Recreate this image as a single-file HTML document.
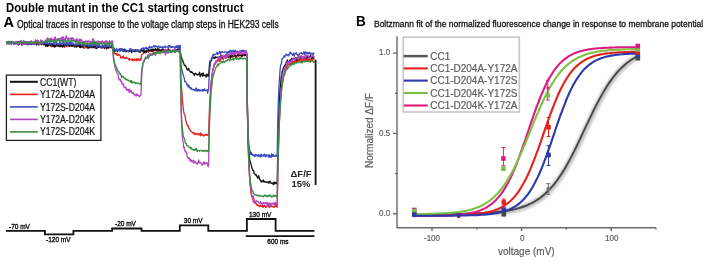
<!DOCTYPE html>
<html><head><meta charset="utf-8">
<style>
html,body{margin:0;padding:0;background:#fff;}
body{width:708px;height:260px;position:relative;overflow:hidden;font-family:"Liberation Sans",sans-serif;}
#wrap{position:absolute;left:0;top:0;width:708px;height:260px;background:#fff;filter:blur(0.35px);}
.t{position:absolute;white-space:nowrap;line-height:1;transform-origin:0 0;}
svg{position:absolute;left:0;top:0;}
.tl{font-size:8.6px;color:#555;transform:scaleX(0.93);-webkit-text-stroke:0.2px #666}
</style></head><body><div id="wrap">
<div class="t" style="left:6px;top:0.5px;font-size:13px;font-weight:bold;color:#000;transform:scaleX(0.87)">Double mutant in the CC1 starting construct</div>
<div class="t" style="left:3.5px;top:15px;font-size:14.5px;font-weight:bold;color:#000;">A</div>
<div class="t" style="left:16.8px;top:20.2px;font-size:10px;color:#111;transform:scaleX(0.85);-webkit-text-stroke:0.3px #111">Optical traces in response to the voltage clamp steps in HEK293 cells</div>
<div class="t" style="left:355.5px;top:13.1px;font-size:15px;font-weight:bold;color:#000;transform:scaleX(0.9)">B</div>
<div class="t" style="left:374.3px;top:19.6px;font-size:9.3px;color:#111;transform:scaleX(0.91);-webkit-text-stroke:0.3px #111">Boltzmann fit of the normalized fluorescence change in response to membrane potential</div>

<svg width="708" height="260" viewBox="0 0 708 260">
<defs><filter id="gb" x="-10%" y="-10%" width="120%" height="120%"><feGaussianBlur stdDeviation="1.3"/></filter></defs>
<g fill="none" stroke-width="1.3" stroke-linejoin="round">
<path d="M6.5,42.6 7.0,43.7 7.5,43.7 8.0,42.3 8.5,42.5 9.0,42.4 9.5,43.2 10.0,42.8 10.5,43.4 11.0,41.4 11.5,44.1 12.0,42.8 12.5,43.4 13.0,42.8 13.5,42.6 14.0,43.3 14.5,43.6 15.0,42.8 15.5,42.9 16.0,43.5 16.5,42.3 17.0,41.8 17.5,43.4 18.0,42.5 18.5,41.5 19.0,42.4 19.5,42.7 20.0,42.1 20.5,41.9 21.0,43.2 21.5,43.9 22.0,43.0 22.5,42.6 23.0,43.5 23.5,43.8 24.0,43.0 24.5,43.6 25.0,44.1 25.5,43.1 26.0,42.6 26.5,43.5 27.0,43.5 27.5,44.2 28.0,42.3 28.5,42.8 29.0,42.6 29.5,41.9 30.0,43.4 30.5,43.8 31.0,42.8 31.5,44.5 32.0,44.0 32.5,43.9 33.0,43.7 33.5,44.2 34.0,42.4 34.5,43.9 35.0,43.9 35.5,42.0 36.0,43.7 36.5,43.3 37.0,44.1 37.5,43.1 38.0,43.5 38.5,43.8 39.0,42.8 39.5,44.0 40.0,43.4 40.5,43.9 41.0,43.1 41.5,44.4 42.0,44.0 42.5,43.4 43.0,44.1 43.5,44.6 44.0,45.0 44.3,42.3 44.8,44.8 45.3,44.8 45.8,44.6 46.3,44.0 46.8,45.9 47.3,44.0 47.8,45.5 48.3,46.1 48.8,43.8 49.3,44.9 49.8,44.1 50.3,45.4 50.8,46.4 51.3,46.8 51.8,43.8 52.3,44.8 52.8,45.8 53.3,46.5 53.8,45.6 54.3,44.7 54.8,45.5 55.3,45.3 55.8,45.2 56.3,44.7 56.8,45.6 57.3,45.6 57.8,45.3 58.3,45.2 58.8,44.3 59.3,45.0 59.8,46.3 60.3,45.2 60.8,44.2 61.3,46.4 61.8,45.8 62.3,47.1 62.8,45.4 63.3,45.0 63.8,44.2 64.3,46.4 64.8,47.4 65.3,44.7 65.8,44.9 66.3,45.9 66.8,44.7 67.3,45.2 67.8,45.1 68.3,45.5 68.8,46.3 69.3,45.4 69.8,46.1 70.3,45.1 70.8,45.7 71.3,43.7 71.8,44.2 72.3,46.0 72.8,44.9 73.3,45.9 73.5,45.8 74.0,46.6 74.5,46.3 75.0,46.5 75.5,45.7 76.0,45.3 76.5,45.3 77.0,45.6 77.5,45.1 78.0,45.6 78.5,46.0 79.0,46.4 79.5,45.9 80.0,44.7 80.5,46.2 81.0,46.5 81.5,47.2 82.0,46.9 82.5,45.9 83.0,45.9 83.5,48.1 84.0,47.1 84.5,48.0 85.0,48.3 85.5,46.0 86.0,46.9 86.5,47.0 87.0,47.1 87.5,47.1 88.0,46.9 88.5,46.9 89.0,45.6 89.5,46.7 90.0,46.2 90.5,46.9 91.0,46.5 91.5,47.4 92.0,47.6 92.5,47.2 93.0,47.2 93.5,47.0 94.0,46.6 94.5,46.9 95.0,46.6 95.5,47.3 96.0,47.0 96.5,47.5 97.0,46.0 97.5,47.8 98.0,46.5 98.5,46.5 99.0,46.9 99.5,46.7 100.0,47.4 100.5,46.7 101.0,46.3 101.5,46.5 102.0,48.2 102.5,47.2 103.0,46.2 103.5,47.2 104.0,46.0 104.5,48.6 105.0,46.0 105.5,47.6 106.0,47.7 106.5,46.1 107.0,47.5 107.5,48.0 108.0,47.6 108.5,47.5 109.0,48.0 109.5,47.4 110.0,47.5 110.5,47.2 111.0,47.8 111.5,46.5 112.0,47.9 112.5,46.9 112.6,46.4 113.1,50.4 113.6,53.0 114.1,53.3 114.6,52.7 115.1,54.1 115.6,53.6 116.1,54.2 116.6,54.7 117.1,53.1 117.6,55.3 118.1,54.6 118.6,55.2 119.1,54.8 119.6,55.0 120.1,55.6 120.6,57.3 121.1,58.1 121.6,57.0 122.1,58.0 122.6,57.1 123.1,55.9 123.6,57.7 124.1,58.1 124.6,57.5 125.1,58.2 125.6,58.6 126.1,57.5 126.6,57.2 127.1,58.3 127.6,58.4 128.1,58.3 128.6,59.5 129.1,60.2 129.6,58.5 130.1,59.5 130.6,59.7 131.1,59.6 131.6,60.0 132.1,58.9 132.6,59.8 133.1,60.9 133.6,60.0 134.1,58.9 134.6,59.9 135.1,60.5 135.6,59.8 136.1,59.1 136.6,60.8 137.1,58.6 137.6,60.0 138.1,59.6 138.6,58.7 139.1,60.7 139.6,60.0 140.1,58.8 140.6,60.3 141.0,59.5 141.5,55.0 142.0,54.3 142.5,54.1 143.0,53.8 143.5,53.0 144.0,52.5 144.5,52.6 145.0,51.8 145.5,52.8 146.0,51.8 146.5,51.7 147.0,51.8 147.5,50.4 148.0,50.6 148.5,52.3 149.0,51.3 149.5,50.8 150.0,51.2 150.5,50.5 151.0,51.1 151.5,50.3 152.0,51.0 152.5,49.5 153.0,51.8 153.5,50.3 154.0,49.4 154.5,50.5 155.0,50.4 155.5,50.8 156.0,49.7 156.5,51.0 157.0,53.5 157.5,49.6 158.0,50.9 158.5,50.4 159.0,50.8 159.5,49.2 160.0,49.7 160.5,51.0 161.0,50.6 161.5,51.9 162.0,50.0 162.5,50.7 163.0,52.9 163.5,50.0 164.0,49.9 164.5,50.6 165.0,50.6 165.5,51.3 166.0,50.7 166.5,50.0 167.0,50.8 167.5,52.7 168.0,51.6 168.5,48.4 169.0,50.5 169.5,49.9 170.0,51.1 170.5,50.5 171.0,52.1 171.5,51.3 172.0,51.3 172.5,50.7 173.0,50.6 173.5,50.9 174.0,51.6 174.5,51.0 175.0,50.3 175.5,51.6 176.0,50.8 176.5,50.5 177.0,50.0 177.5,50.1 178.0,50.1 178.5,48.4 179.0,51.4 179.5,51.1 180.0,50.4 180.2,51.4 180.7,71.8 181.2,84.0 181.7,89.8 182.2,97.6 182.7,103.0 183.2,107.8 183.7,111.4 184.2,114.1 184.7,114.6 185.2,116.1 185.7,120.3 186.2,121.7 186.7,124.0 187.2,124.5 187.7,126.0 188.2,125.7 188.7,128.2 189.2,128.4 189.7,129.7 190.2,130.5 190.7,130.6 191.2,131.5 191.7,131.7 192.2,132.7 192.7,132.8 193.2,132.3 193.7,132.5 194.2,134.6 194.7,133.4 195.2,134.4 195.7,134.1 196.2,133.5 196.7,133.5 197.2,134.3 197.7,134.5 198.2,134.9 198.7,133.4 199.2,134.1 199.7,134.5 200.2,135.9 200.7,132.8 201.2,135.1 201.7,134.3 202.2,135.1 202.7,134.4 203.2,135.2 203.7,136.1 204.2,135.2 204.7,135.3 205.2,135.2 205.7,134.3 206.2,135.4 206.7,134.8 207.2,134.3 207.7,135.0 208.2,134.8 208.6,135.6 209.1,118.1 209.6,104.9 210.1,96.7 210.6,88.7 211.1,83.1 211.6,78.1 212.1,74.0 212.6,71.0 213.1,68.9 213.6,68.2 214.1,66.1 214.6,63.7 215.1,64.0 215.6,62.1 216.1,62.7 216.6,61.1 217.1,60.5 217.6,61.2 218.1,60.7 218.6,59.1 219.1,60.7 219.6,61.5 220.1,58.4 220.6,60.8 221.1,58.5 221.6,58.5 222.1,58.5 222.6,57.3 223.1,59.3 223.6,58.5 224.1,57.3 224.6,57.6 225.1,56.4 225.6,57.2 226.1,58.1 226.6,55.8 227.1,56.7 227.6,57.1 228.1,57.7 228.6,57.8 229.1,56.3 229.6,55.9 230.1,56.8 230.6,56.0 231.1,56.0 231.6,57.0 232.1,57.4 232.6,56.2 233.1,55.8 233.6,56.3 234.1,54.3 234.6,55.7 235.1,54.8 235.6,57.5 236.1,56.1 236.6,55.6 237.1,55.3 237.6,53.3 238.1,55.9 238.6,56.6 239.1,54.6 239.6,55.7 240.1,55.7 240.6,53.8 241.1,55.8 241.6,56.1 242.1,55.2 242.6,54.9 243.1,55.5 243.6,53.6 244.1,54.9 244.6,55.7 245.1,53.8 245.6,55.5 246.1,54.4 246.6,53.0 246.7,54.6 247.2,94.4 247.7,124.5 248.2,144.1 248.7,161.0 249.2,170.6 249.7,179.6 250.2,184.9 250.7,189.6 251.2,194.2 251.7,196.0 252.2,197.5 252.7,198.3 253.2,201.5 253.7,202.1 254.2,202.1 254.7,203.2 255.2,202.7 255.7,203.2 256.2,203.7 256.7,204.9 257.2,205.2 257.7,204.5 258.2,205.9 258.7,206.1 259.2,205.8 259.7,206.6 260.2,205.6 260.7,205.9 261.2,206.4 261.7,206.1 262.2,206.8 262.7,205.2 263.2,207.4 263.7,205.6 264.2,206.2 264.7,205.2 265.2,206.8 265.7,207.4 266.2,207.2 266.7,207.1 267.2,205.2 267.7,205.8 268.2,206.1 268.7,205.7 269.2,207.4 269.7,206.6 270.2,206.4 270.7,206.9 271.2,205.7 271.7,205.8 272.2,205.8 272.7,206.9 273.2,206.8 273.7,207.0 274.2,207.4 274.7,205.4 275.2,206.0 275.7,206.6 276.2,205.4 276.7,206.1 277.2,207.3 277.7,180.2 278.2,158.4 278.7,140.1 279.2,125.8 279.7,115.5 280.2,105.1 280.7,98.3 281.2,93.1 281.7,86.8 282.2,82.6 282.7,79.8 283.2,77.6 283.7,75.3 284.2,73.1 284.7,71.9 285.2,68.9 285.7,68.3 286.2,68.2 286.7,66.5 287.2,65.5 287.7,65.0 288.2,64.6 288.7,64.8 289.2,63.7 289.7,64.3 290.2,65.1 290.7,63.3 291.2,64.2 291.7,63.1 292.2,61.7 292.7,62.2 293.2,61.4 293.7,62.6 294.2,60.9 294.7,62.7 295.2,62.0 295.7,59.7 296.2,61.9 296.7,62.3 297.2,60.3 297.7,61.6 298.2,59.3 298.7,60.8 299.2,59.2 299.7,60.8 300.2,58.9 300.7,58.2 301.2,60.5 301.7,62.0 302.2,59.6 302.7,60.7 303.2,60.0 303.7,59.6 304.2,60.3 304.7,61.1 305.2,58.8 305.7,60.1 306.2,59.9 306.7,58.5 307.2,60.9 307.7,61.1 308.2,58.7 308.7,60.9 309.2,59.5 309.7,59.3 310.2,60.6 310.7,59.5 311.2,59.6 311.7,60.5 312.2,60.3 312.7,60.0 313.2,58.1 313.7,58.0 314.2,60.1" stroke="#e2231f"/>
<path d="M6.5,41.9 7.0,42.8 7.5,41.9 8.0,42.7 8.5,41.8 9.0,44.2 9.5,42.1 10.0,42.8 10.5,42.8 11.0,43.9 11.5,41.8 12.0,42.9 12.5,42.8 13.0,43.4 13.5,43.4 14.0,42.6 14.5,43.2 15.0,42.7 15.5,43.4 16.0,43.0 16.5,42.5 17.0,43.1 17.5,43.4 18.0,44.9 18.5,42.7 19.0,43.4 19.5,44.3 20.0,41.5 20.5,41.8 21.0,42.2 21.5,43.1 22.0,45.2 22.5,43.5 23.0,44.2 23.5,43.1 24.0,41.3 24.5,41.4 25.0,44.1 25.5,43.4 26.0,42.2 26.5,44.2 27.0,42.1 27.5,44.2 28.0,44.5 28.5,42.7 29.0,42.5 29.5,44.0 30.0,42.5 30.5,44.1 31.0,42.4 31.5,44.0 32.0,43.5 32.5,43.1 33.0,42.7 33.5,43.6 34.0,41.9 34.5,43.2 35.0,43.1 35.5,44.0 36.0,42.5 36.5,44.9 37.0,43.2 37.5,42.6 38.0,44.6 38.5,44.8 39.0,43.4 39.5,42.8 40.0,43.5 40.5,43.0 41.0,43.3 41.5,44.8 42.0,43.9 42.5,43.7 43.0,43.9 43.5,43.5 44.0,44.3 44.3,44.3 44.8,43.7 45.3,44.3 45.8,46.3 46.3,44.9 46.8,44.5 47.3,46.4 47.8,44.8 48.3,44.0 48.8,45.5 49.3,44.3 49.8,44.6 50.3,45.4 50.8,45.0 51.3,44.6 51.8,44.8 52.3,44.8 52.8,46.2 53.3,44.7 53.8,44.9 54.3,47.0 54.8,44.9 55.3,46.6 55.8,46.5 56.3,45.3 56.8,44.3 57.3,45.8 57.8,46.0 58.3,46.2 58.8,45.5 59.3,46.5 59.8,46.6 60.3,44.7 60.8,46.7 61.3,45.7 61.8,45.1 62.3,45.3 62.8,47.0 63.3,46.3 63.8,44.1 64.3,45.6 64.8,45.5 65.3,45.4 65.8,45.2 66.3,44.4 66.8,46.3 67.3,44.8 67.8,45.3 68.3,45.1 68.8,45.0 69.3,46.2 69.8,45.9 70.3,45.1 70.8,44.8 71.3,45.2 71.8,46.4 72.3,45.7 72.8,45.8 73.3,45.3 73.5,45.4 74.0,45.9 74.5,44.3 75.0,47.2 75.5,45.3 76.0,45.6 76.5,47.1 77.0,46.3 77.5,46.2 78.0,45.7 78.5,45.0 79.0,46.4 79.5,47.3 80.0,45.6 80.5,47.5 81.0,45.5 81.5,45.8 82.0,46.9 82.5,46.5 83.0,47.1 83.5,45.9 84.0,45.7 84.5,45.1 85.0,45.6 85.5,45.8 86.0,45.5 86.5,46.9 87.0,46.2 87.5,45.1 88.0,48.7 88.5,46.1 89.0,45.8 89.5,47.8 90.0,47.7 90.5,45.9 91.0,45.7 91.5,46.1 92.0,47.8 92.5,46.6 93.0,46.3 93.5,46.9 94.0,47.9 94.5,45.8 95.0,46.6 95.5,45.9 96.0,48.7 96.5,48.4 97.0,47.8 97.5,46.9 98.0,47.5 98.5,45.3 99.0,47.3 99.5,46.0 100.0,46.0 100.5,46.5 101.0,46.8 101.5,47.5 102.0,47.6 102.5,47.3 103.0,46.3 103.5,47.6 104.0,47.0 104.5,48.1 105.0,46.4 105.5,44.9 106.0,46.8 106.5,48.9 107.0,47.5 107.5,47.0 108.0,47.9 108.5,47.6 109.0,47.5 109.5,46.8 110.0,47.2 110.5,47.3 111.0,46.7 111.5,46.3 112.0,47.3 112.5,48.0 112.6,47.7 113.1,48.7 113.6,49.3 114.1,51.3 114.6,49.6 115.1,50.4 115.6,51.2 116.1,49.8 116.6,50.0 117.1,50.7 117.6,51.3 118.1,50.3 118.6,50.4 119.1,50.2 119.6,49.2 120.1,51.1 120.6,50.1 121.1,49.0 121.6,50.3 122.1,49.0 122.6,49.7 123.1,50.5 123.6,49.8 124.1,51.4 124.6,49.4 125.1,50.8 125.6,51.1 126.1,51.9 126.6,51.4 127.1,50.9 127.6,50.8 128.1,50.7 128.6,51.7 129.1,50.3 129.6,51.2 130.1,50.8 130.6,51.0 131.1,50.7 131.6,52.6 132.1,50.4 132.6,51.1 133.1,51.1 133.6,51.4 134.1,51.3 134.6,51.3 135.1,51.7 135.6,49.7 136.1,51.0 136.6,50.0 137.1,51.2 137.6,50.0 138.1,50.2 138.6,50.9 139.1,52.1 139.6,51.5 140.1,51.2 140.6,52.1 141.0,50.3 141.5,49.2 142.0,50.4 142.5,50.4 143.0,51.6 143.5,52.3 144.0,49.5 144.5,52.5 145.0,51.7 145.5,51.1 146.0,50.7 146.5,52.4 147.0,50.5 147.5,50.0 148.0,50.5 148.5,49.2 149.0,50.7 149.5,50.2 150.0,50.6 150.5,50.6 151.0,49.4 151.5,51.3 152.0,49.5 152.5,51.0 153.0,49.0 153.5,50.6 154.0,49.6 154.5,50.3 155.0,49.7 155.5,48.5 156.0,49.3 156.5,50.3 157.0,50.7 157.5,49.1 158.0,48.5 158.5,49.5 159.0,50.1 159.5,49.7 160.0,49.6 160.5,50.9 161.0,51.0 161.5,50.8 162.0,49.5 162.5,50.3 163.0,50.1 163.5,49.1 164.0,50.9 164.5,50.3 165.0,49.8 165.5,51.4 166.0,50.8 166.5,50.9 167.0,51.2 167.5,50.8 168.0,49.2 168.5,49.9 169.0,51.0 169.5,49.6 170.0,50.2 170.5,50.5 171.0,51.4 171.5,51.3 172.0,50.9 172.5,50.1 173.0,50.9 173.5,50.6 174.0,50.1 174.5,51.3 175.0,50.6 175.5,49.6 176.0,51.2 176.5,50.0 177.0,50.7 177.5,49.0 178.0,50.2 178.5,49.5 179.0,49.4 179.5,48.7 180.0,51.9 180.2,50.1 180.7,53.9 181.2,57.1 181.7,58.0 182.2,60.2 182.7,60.1 183.2,62.6 183.7,63.2 184.2,65.0 184.7,65.7 185.2,65.3 185.7,65.7 186.2,67.1 186.7,69.1 187.2,69.5 187.7,70.0 188.2,68.6 188.7,68.5 189.2,70.6 189.7,71.2 190.2,71.3 190.7,72.4 191.2,72.3 191.7,71.7 192.2,72.2 192.7,73.2 193.2,73.4 193.7,73.4 194.2,75.5 194.7,73.6 195.2,74.1 195.7,73.3 196.2,73.9 196.7,74.7 197.2,74.9 197.7,74.4 198.2,74.9 198.7,74.7 199.2,73.2 199.7,72.2 200.2,76.7 200.7,75.6 201.2,74.9 201.7,73.6 202.2,74.0 202.7,76.1 203.2,72.9 203.7,74.9 204.2,75.8 204.7,75.3 205.2,75.8 205.7,75.1 206.2,77.1 206.7,74.4 207.2,74.2 207.7,75.5 208.2,76.4 208.6,75.3 209.1,69.1 209.6,63.7 210.1,60.8 210.6,61.4 211.1,60.7 211.6,60.2 212.1,58.2 212.6,57.4 213.1,57.2 213.6,57.8 214.1,58.4 214.6,58.2 215.1,56.6 215.6,57.8 216.1,57.5 216.6,57.5 217.1,57.4 217.6,57.1 218.1,57.7 218.6,57.3 219.1,57.3 219.6,56.5 220.1,57.3 220.6,56.8 221.1,55.1 221.6,57.1 222.1,56.5 222.6,57.4 223.1,56.4 223.6,56.4 224.1,56.6 224.6,56.4 225.1,56.0 225.6,54.9 226.1,57.7 226.6,54.9 227.1,55.9 227.6,56.6 228.1,56.4 228.6,56.5 229.1,56.6 229.6,57.0 230.1,56.1 230.6,58.2 231.1,55.0 231.6,56.0 232.1,55.5 232.6,55.3 233.1,55.9 233.6,56.8 234.1,55.0 234.6,55.0 235.1,56.1 235.6,56.0 236.1,57.1 236.6,56.3 237.1,55.6 237.6,55.1 238.1,55.5 238.6,55.2 239.1,54.2 239.6,55.3 240.1,55.1 240.6,55.1 241.1,54.9 241.6,56.6 242.1,55.7 242.6,55.9 243.1,54.7 243.6,54.3 244.1,54.9 244.6,55.3 245.1,54.8 245.6,54.9 246.1,55.8 246.6,55.2 246.7,54.2 247.2,100.5 247.7,125.9 248.2,141.3 248.7,148.9 249.2,155.2 249.7,159.6 250.2,161.8 250.7,163.1 251.2,165.1 251.7,167.1 252.2,168.7 252.7,170.2 253.2,170.5 253.7,170.6 254.2,173.7 254.7,173.6 255.2,174.5 255.7,175.1 256.2,174.7 256.7,175.9 257.2,176.9 257.7,178.1 258.2,177.8 258.7,175.7 259.2,178.4 259.7,179.3 260.2,180.4 260.7,180.2 261.2,182.0 261.7,181.4 262.2,181.6 262.7,181.5 263.2,179.9 263.7,181.9 264.2,181.9 264.7,181.2 265.2,182.2 265.7,182.2 266.2,181.7 266.7,182.1 267.2,182.1 267.7,182.6 268.2,182.2 268.7,183.1 269.2,181.2 269.7,182.6 270.2,181.5 270.7,182.5 271.2,183.4 271.7,183.1 272.2,183.0 272.7,183.2 273.2,184.5 273.7,182.4 274.2,184.0 274.7,182.1 275.2,183.0 275.7,183.5 276.2,182.8 276.7,183.6 277.2,184.1 277.7,154.4 278.2,133.8 278.7,117.2 279.2,103.4 279.7,95.2 280.2,87.3 280.7,83.4 281.2,77.2 281.7,75.8 282.2,71.4 282.7,71.3 283.2,68.5 283.7,67.1 284.2,66.3 284.7,65.4 285.2,65.1 285.7,64.8 286.2,62.6 286.7,61.4 287.2,59.9 287.7,61.4 288.2,62.0 288.7,61.4 289.2,60.9 289.7,60.3 290.2,59.9 290.7,60.0 291.2,60.3 291.7,58.4 292.2,60.3 292.7,58.4 293.2,59.3 293.7,58.7 294.2,58.8 294.7,58.2 295.2,58.0 295.7,58.6 296.2,57.8 296.7,60.5 297.2,58.1 297.7,57.9 298.2,57.9 298.7,57.4 299.2,56.2 299.7,57.9 300.2,58.3 300.7,56.7 301.2,57.9 301.7,56.8 302.2,57.7 302.7,58.0 303.2,58.0 303.7,58.0 304.2,57.0 304.7,58.2 305.2,57.1 305.7,57.7 306.2,58.0 306.7,57.1 307.2,56.3 307.7,57.8 308.2,56.4 308.7,56.5 309.2,56.3 309.7,57.9 310.2,57.0 310.7,55.3 311.2,57.7 311.7,58.7 312.2,58.5 312.7,56.6 313.2,57.1 313.7,57.4 314.2,57.7" stroke="#111"/>
<path d="M6.5,42.6 7.0,41.6 7.5,43.3 8.0,43.2 8.5,41.4 9.0,42.3 9.5,42.9 10.0,42.6 10.5,43.1 11.0,43.4 11.5,43.1 12.0,42.6 12.5,41.5 13.0,43.2 13.5,43.9 14.0,44.5 14.5,42.7 15.0,42.7 15.5,44.0 16.0,44.0 16.5,43.0 17.0,43.4 17.5,42.1 18.0,43.3 18.5,42.0 19.0,42.6 19.5,42.6 20.0,42.3 20.5,40.9 21.0,42.0 21.5,43.1 22.0,42.7 22.5,42.4 23.0,43.2 23.5,43.4 24.0,43.6 24.5,42.1 25.0,42.8 25.5,42.5 26.0,42.0 26.5,41.5 27.0,42.8 27.5,42.1 28.0,44.8 28.5,42.8 29.0,42.7 29.5,42.5 30.0,44.6 30.5,42.0 31.0,42.7 31.5,42.2 32.0,42.8 32.5,42.9 33.0,43.9 33.5,41.6 34.0,42.9 34.5,44.4 35.0,42.5 35.5,42.8 36.0,42.1 36.5,40.6 37.0,42.8 37.5,44.0 38.0,42.5 38.5,41.3 39.0,43.2 39.5,43.0 40.0,43.9 40.5,43.8 41.0,42.7 41.5,43.3 42.0,41.3 42.5,44.0 43.0,43.1 43.5,44.0 44.0,43.9 44.3,42.7 44.8,43.0 45.3,42.5 45.8,41.5 46.3,43.3 46.8,43.5 47.3,42.4 47.8,44.1 48.3,43.5 48.8,43.8 49.3,42.7 49.8,41.8 50.3,44.1 50.8,44.0 51.3,43.3 51.8,43.0 52.3,43.2 52.8,43.3 53.3,42.9 53.8,41.6 54.3,44.1 54.8,42.1 55.3,43.1 55.8,43.1 56.3,43.6 56.8,41.9 57.3,44.5 57.8,44.0 58.3,44.1 58.8,44.5 59.3,42.7 59.8,40.6 60.3,43.7 60.8,44.6 61.3,44.4 61.8,42.9 62.3,43.3 62.8,43.7 63.3,41.8 63.8,42.8 64.3,42.8 64.8,44.8 65.3,42.8 65.8,44.8 66.3,43.4 66.8,41.9 67.3,45.4 67.8,42.5 68.3,44.0 68.8,44.9 69.3,42.9 69.8,42.3 70.3,44.3 70.8,43.5 71.3,42.3 71.8,42.4 72.3,43.0 72.8,44.3 73.3,43.1 73.5,44.0 74.0,45.1 74.5,44.8 75.0,45.1 75.5,45.0 76.0,42.5 76.5,45.2 77.0,44.4 77.5,44.1 78.0,43.3 78.5,42.9 79.0,43.4 79.5,44.4 80.0,43.5 80.5,43.8 81.0,44.1 81.5,45.3 82.0,44.5 82.5,44.6 83.0,46.0 83.5,44.6 84.0,45.4 84.5,44.0 85.0,45.3 85.5,45.1 86.0,45.2 86.5,44.7 87.0,44.2 87.5,44.9 88.0,44.8 88.5,46.2 89.0,46.1 89.5,44.2 90.0,45.9 90.5,44.9 91.0,45.8 91.5,45.0 92.0,44.1 92.5,46.4 93.0,45.9 93.5,44.4 94.0,43.8 94.5,45.1 95.0,44.5 95.5,45.3 96.0,46.2 96.5,47.0 97.0,45.3 97.5,46.9 98.0,46.7 98.5,45.3 99.0,44.2 99.5,46.5 100.0,46.3 100.5,47.9 101.0,47.1 101.5,46.5 102.0,47.3 102.5,44.9 103.0,46.0 103.5,45.6 104.0,47.4 104.5,46.4 105.0,43.1 105.5,47.1 106.0,45.1 106.5,46.6 107.0,45.5 107.5,46.2 108.0,46.5 108.5,46.1 109.0,45.1 109.5,47.2 110.0,46.3 110.5,46.0 111.0,46.6 111.5,45.5 112.0,47.7 112.5,46.2 112.6,46.3 113.1,48.1 113.6,47.8 114.1,47.9 114.6,49.4 115.1,49.6 115.6,50.6 116.1,49.9 116.6,48.5 117.1,50.0 117.6,50.3 118.1,50.5 118.6,50.0 119.1,48.6 119.6,50.8 120.1,49.1 120.6,50.3 121.1,48.4 121.6,50.5 122.1,49.2 122.6,50.9 123.1,51.5 123.6,51.0 124.1,48.9 124.6,49.1 125.1,49.2 125.6,50.6 126.1,50.3 126.6,50.2 127.1,50.3 127.6,50.6 128.1,50.7 128.6,51.6 129.1,50.0 129.6,50.3 130.1,48.4 130.6,48.9 131.1,49.5 131.6,49.1 132.1,50.3 132.6,51.1 133.1,49.8 133.6,49.7 134.1,49.7 134.6,50.3 135.1,49.7 135.6,50.6 136.1,50.4 136.6,50.5 137.1,50.9 137.6,50.2 138.1,50.3 138.6,51.8 139.1,50.2 139.6,50.9 140.1,50.2 140.6,49.8 141.0,49.8 141.5,48.6 142.0,48.9 142.5,48.0 143.0,48.0 143.5,49.3 144.0,48.0 144.5,49.0 145.0,48.1 145.5,48.6 146.0,47.2 146.5,47.8 147.0,50.0 147.5,48.3 148.0,48.4 148.5,47.7 149.0,48.2 149.5,46.3 150.0,46.6 150.5,47.7 151.0,48.0 151.5,46.9 152.0,47.0 152.5,46.9 153.0,47.0 153.5,46.1 154.0,45.9 154.5,47.1 155.0,45.5 155.5,46.2 156.0,46.5 156.5,46.1 157.0,47.3 157.5,46.7 158.0,47.0 158.5,46.1 159.0,46.4 159.5,47.5 160.0,47.4 160.5,46.6 161.0,47.3 161.5,47.2 162.0,47.2 162.5,48.4 163.0,46.6 163.5,47.4 164.0,47.4 164.5,46.8 165.0,45.9 165.5,47.6 166.0,47.2 166.5,47.0 167.0,47.0 167.5,47.0 168.0,46.2 168.5,47.2 169.0,45.3 169.5,46.9 170.0,45.6 170.5,46.7 171.0,47.6 171.5,46.7 172.0,46.5 172.5,47.4 173.0,46.7 173.5,46.6 174.0,46.6 174.5,48.3 175.0,47.6 175.5,47.4 176.0,45.9 176.5,47.5 177.0,45.8 177.5,47.4 178.0,45.9 178.5,48.7 179.0,45.4 179.5,48.0 180.0,47.7 180.2,45.3 180.7,58.2 181.2,66.1 181.7,69.8 182.2,70.2 182.7,73.4 183.2,74.7 183.7,76.4 184.2,78.2 184.7,81.6 185.2,81.2 185.7,81.9 186.2,82.7 186.7,84.4 187.2,85.1 187.7,84.3 188.2,87.0 188.7,85.2 189.2,86.4 189.7,87.4 190.2,88.9 190.7,87.4 191.2,88.3 191.7,89.4 192.2,89.1 192.7,89.7 193.2,89.8 193.7,89.3 194.2,89.8 194.7,90.2 195.2,89.4 195.7,91.0 196.2,87.9 196.7,88.9 197.2,91.1 197.7,90.3 198.2,89.4 198.7,90.4 199.2,91.1 199.7,89.6 200.2,90.8 200.7,90.1 201.2,90.1 201.7,90.2 202.2,91.3 202.7,89.3 203.2,90.0 203.7,90.9 204.2,89.3 204.7,88.9 205.2,90.9 205.7,90.4 206.2,90.3 206.7,90.5 207.2,89.5 207.7,93.1 208.2,89.6 208.6,90.1 209.1,77.2 209.6,70.2 210.1,66.7 210.6,61.8 211.1,59.9 211.6,57.4 212.1,58.3 212.6,56.1 213.1,54.2 213.6,55.6 214.1,54.3 214.6,54.9 215.1,54.3 215.6,54.3 216.1,54.0 216.6,52.9 217.1,52.3 217.6,54.4 218.1,53.3 218.6,53.6 219.1,52.8 219.6,51.3 220.1,51.9 220.6,54.2 221.1,52.2 221.6,52.5 222.1,51.4 222.6,52.2 223.1,52.2 223.6,52.3 224.1,52.4 224.6,51.8 225.1,51.8 225.6,52.2 226.1,52.5 226.6,52.0 227.1,53.7 227.6,52.2 228.1,52.1 228.6,51.4 229.1,52.8 229.6,50.9 230.1,50.3 230.6,50.9 231.1,52.3 231.6,50.7 232.1,52.8 232.6,51.6 233.1,50.2 233.6,51.3 234.1,53.1 234.6,50.7 235.1,50.3 235.6,51.9 236.1,52.6 236.6,52.3 237.1,51.0 237.6,51.5 238.1,51.6 238.6,52.3 239.1,53.2 239.6,51.1 240.1,52.3 240.6,50.8 241.1,51.7 241.6,50.3 242.1,50.4 242.6,51.4 243.1,50.2 243.6,51.8 244.1,50.5 244.6,51.1 245.1,50.9 245.6,50.7 246.1,51.1 246.6,51.9 246.7,53.7 247.2,95.5 247.7,121.9 248.2,135.3 248.7,142.5 249.2,148.1 249.7,149.7 250.2,152.1 250.7,154.3 251.2,152.1 251.7,154.6 252.2,155.1 252.7,154.1 253.2,155.6 253.7,155.5 254.2,155.0 254.7,156.5 255.2,154.3 255.7,156.1 256.2,155.4 256.7,154.7 257.2,155.5 257.7,155.3 258.2,156.4 258.7,154.3 259.2,155.5 259.7,155.3 260.2,157.1 260.7,154.7 261.2,156.7 261.7,154.1 262.2,156.0 262.7,155.6 263.2,156.1 263.7,155.1 264.2,154.0 264.7,154.3 265.2,156.9 265.7,155.9 266.2,154.9 266.7,156.5 267.2,155.1 267.7,155.1 268.2,154.6 268.7,156.8 269.2,157.5 269.7,154.9 270.2,156.0 270.7,156.6 271.2,157.6 271.7,153.6 272.2,155.8 272.7,156.3 273.2,154.4 273.7,156.1 274.2,155.9 274.7,156.4 275.2,155.2 275.7,156.1 276.2,155.2 276.7,156.3 277.2,155.9 277.7,126.2 278.2,104.7 278.7,93.0 279.2,82.2 279.7,74.8 280.2,68.3 280.7,64.9 281.2,64.1 281.7,61.3 282.2,58.5 282.7,58.3 283.2,57.6 283.7,56.7 284.2,55.6 284.7,57.2 285.2,56.3 285.7,55.4 286.2,53.9 286.7,54.7 287.2,55.0 287.7,55.7 288.2,54.4 288.7,55.7 289.2,54.7 289.7,53.8 290.2,51.9 290.7,53.3 291.2,52.9 291.7,54.1 292.2,54.5 292.7,55.4 293.2,54.0 293.7,53.0 294.2,56.1 294.7,54.2 295.2,53.7 295.7,53.6 296.2,52.6 296.7,54.4 297.2,54.1 297.7,55.2 298.2,54.7 298.7,54.5 299.2,54.8 299.7,53.4 300.2,53.3 300.7,53.6 301.2,52.5 301.7,53.5 302.2,53.3 302.7,54.2 303.2,53.6 303.7,51.8 304.2,53.6 304.7,54.8 305.2,51.9 305.7,52.8 306.2,53.5 306.7,52.3 307.2,53.0 307.7,53.6 308.2,52.3 308.7,53.8 309.2,53.9 309.7,52.3 310.2,53.5 310.7,54.4 311.2,53.3 311.7,53.9 312.2,54.0 312.7,53.3 313.2,54.3 313.7,53.8 314.2,52.6" stroke="#3b4cc0"/>
<path d="M6.5,43.1 7.0,43.4 7.5,43.3 8.0,41.8 8.5,42.9 9.0,43.9 9.5,42.7 10.0,43.7 10.5,43.8 11.0,42.4 11.5,43.1 12.0,42.1 12.5,43.5 13.0,42.3 13.5,41.8 14.0,42.4 14.5,42.3 15.0,42.8 15.5,42.9 16.0,41.2 16.5,41.7 17.0,42.8 17.5,42.9 18.0,42.5 18.5,45.2 19.0,43.6 19.5,42.3 20.0,43.2 20.5,43.8 21.0,42.8 21.5,40.6 22.0,42.5 22.5,42.4 23.0,44.6 23.5,40.5 24.0,44.0 24.5,42.2 25.0,43.4 25.5,42.1 26.0,42.6 26.5,43.6 27.0,42.5 27.5,43.5 28.0,42.3 28.5,41.9 29.0,42.1 29.5,41.8 30.0,42.2 30.5,43.8 31.0,41.1 31.5,40.6 32.0,42.3 32.5,44.1 33.0,43.5 33.5,43.7 34.0,43.7 34.5,41.6 35.0,42.5 35.5,39.6 36.0,41.7 36.5,43.0 37.0,40.7 37.5,40.2 38.0,41.0 38.5,42.6 39.0,43.6 39.5,45.1 40.0,43.8 40.5,40.8 41.0,39.9 41.5,42.5 42.0,43.5 42.5,40.6 43.0,41.8 43.5,41.9 44.0,42.4 44.3,42.2 44.8,41.6 45.3,41.3 45.8,39.8 46.3,40.2 46.8,41.3 47.3,38.0 47.8,37.9 48.3,39.5 48.8,40.8 49.3,39.0 49.8,40.0 50.3,38.5 50.8,39.8 51.3,38.1 51.8,39.5 52.3,39.2 52.8,39.2 53.3,40.2 53.8,39.9 54.3,38.1 54.8,39.7 55.3,37.0 55.8,39.8 56.3,41.6 56.8,39.3 57.3,39.3 57.8,38.8 58.3,39.6 58.8,38.3 59.3,39.4 59.8,38.5 60.3,38.3 60.8,38.9 61.3,38.7 61.8,36.9 62.3,40.9 62.8,38.9 63.3,37.0 63.8,39.9 64.3,38.7 64.8,39.0 65.3,39.5 65.8,37.8 66.3,35.6 66.8,38.6 67.3,39.0 67.8,39.8 68.3,37.9 68.8,38.5 69.3,39.2 69.8,38.4 70.3,38.5 70.8,39.0 71.3,37.7 71.8,40.4 72.3,37.8 72.8,38.8 73.3,38.4 73.5,38.0 74.0,39.6 74.5,40.3 75.0,41.0 75.5,40.3 76.0,39.4 76.5,40.9 77.0,38.6 77.5,40.3 78.0,40.9 78.5,41.1 79.0,39.4 79.5,39.2 80.0,42.6 80.5,40.4 81.0,39.3 81.5,39.8 82.0,41.2 82.5,42.5 83.0,41.3 83.5,42.6 84.0,41.6 84.5,42.0 85.0,42.5 85.5,41.2 86.0,41.9 86.5,41.2 87.0,41.0 87.5,42.4 88.0,40.9 88.5,41.9 89.0,41.0 89.5,41.8 90.0,41.3 90.5,43.1 91.0,42.0 91.5,42.0 92.0,43.7 92.5,38.9 93.0,40.8 93.5,39.1 94.0,42.0 94.5,42.5 95.0,42.7 95.5,42.3 96.0,41.2 96.5,43.9 97.0,42.4 97.5,41.8 98.0,40.9 98.5,42.6 99.0,41.6 99.5,41.7 100.0,42.4 100.5,42.4 101.0,41.3 101.5,43.5 102.0,41.1 102.5,41.0 103.0,42.5 103.5,42.3 104.0,42.3 104.5,41.8 105.0,42.2 105.5,41.6 106.0,40.5 106.5,43.0 107.0,41.1 107.5,42.0 108.0,43.0 108.5,42.2 109.0,45.1 109.5,40.7 110.0,41.4 110.5,42.3 111.0,43.6 111.5,42.0 112.0,40.7 112.5,43.4 112.6,41.2 113.1,53.1 113.6,60.1 114.1,62.0 114.6,64.8 115.1,67.8 115.6,68.8 116.1,70.9 116.6,71.1 117.1,73.3 117.6,73.6 118.1,74.3 118.6,78.9 119.1,78.6 119.6,80.1 120.1,79.1 120.6,81.0 121.1,81.7 121.6,81.3 122.1,84.1 122.6,83.5 123.1,84.8 123.6,84.0 124.1,87.3 124.6,87.6 125.1,87.8 125.6,87.0 126.1,87.9 126.6,90.2 127.1,89.1 127.6,90.1 128.1,90.3 128.6,89.4 129.1,92.5 129.6,89.2 130.1,91.8 130.6,91.8 131.1,90.5 131.6,92.8 132.1,93.2 132.6,93.0 133.1,92.3 133.6,93.8 134.1,94.8 134.6,94.0 135.1,95.8 135.6,95.0 136.1,95.1 136.6,95.9 137.1,93.9 137.6,94.2 138.1,95.4 138.6,95.5 139.1,96.7 139.6,96.4 140.1,95.5 140.6,95.7 141.0,95.2 141.5,79.4 142.0,71.1 142.5,68.0 143.0,63.9 143.5,62.3 144.0,61.6 144.5,60.0 145.0,59.5 145.5,56.8 146.0,58.8 146.5,57.6 147.0,57.6 147.5,57.3 148.0,54.5 148.5,58.6 149.0,55.9 149.5,55.5 150.0,53.2 150.5,55.4 151.0,54.9 151.5,53.9 152.0,54.3 152.5,55.2 153.0,53.3 153.5,52.5 154.0,54.7 154.5,53.4 155.0,52.8 155.5,55.3 156.0,52.9 156.5,52.4 157.0,52.8 157.5,52.0 158.0,52.5 158.5,52.4 159.0,51.4 159.5,51.8 160.0,52.3 160.5,52.3 161.0,52.5 161.5,52.6 162.0,52.0 162.5,52.2 163.0,51.2 163.5,51.3 164.0,52.7 164.5,49.5 165.0,51.9 165.5,54.8 166.0,49.5 166.5,53.0 167.0,49.5 167.5,51.7 168.0,53.0 168.5,52.9 169.0,50.3 169.5,49.9 170.0,49.7 170.5,52.0 171.0,50.8 171.5,51.2 172.0,51.4 172.5,51.6 173.0,51.7 173.5,51.3 174.0,49.4 174.5,52.6 175.0,48.2 175.5,52.4 176.0,50.5 176.5,50.9 177.0,50.5 177.5,50.7 178.0,51.0 178.5,50.8 179.0,49.9 179.5,51.9 180.0,50.4 180.2,52.5 180.7,90.4 181.2,112.3 181.7,126.8 182.2,135.4 182.7,138.8 183.2,143.2 183.7,147.8 184.2,147.4 184.7,149.4 185.2,151.9 185.7,151.8 186.2,151.6 186.7,153.4 187.2,156.5 187.7,157.6 188.2,158.2 188.7,158.6 189.2,157.5 189.7,160.0 190.2,161.0 190.7,159.4 191.2,161.5 191.7,160.5 192.2,161.3 192.7,161.8 193.2,160.1 193.7,163.4 194.2,161.1 194.7,162.1 195.2,161.8 195.7,163.0 196.2,163.0 196.7,162.7 197.2,164.3 197.7,163.2 198.2,162.5 198.7,160.0 199.2,162.8 199.7,162.8 200.2,162.3 200.7,162.3 201.2,163.9 201.7,164.4 202.2,165.3 202.7,164.6 203.2,162.7 203.7,163.7 204.2,162.0 204.7,164.2 205.2,163.8 205.7,162.8 206.2,163.4 206.7,163.2 207.2,162.9 207.7,164.9 208.2,166.8 208.6,164.4 209.1,138.4 209.6,118.0 210.1,103.2 210.6,95.2 211.1,84.6 211.6,79.5 212.1,74.5 212.6,71.9 213.1,68.6 213.6,67.3 214.1,63.8 214.6,63.8 215.1,64.3 215.6,61.0 216.1,60.7 216.6,62.2 217.1,60.7 217.6,60.9 218.1,57.0 218.6,59.2 219.1,57.3 219.6,56.9 220.1,58.5 220.6,59.0 221.1,56.0 221.6,56.1 222.1,56.5 222.6,56.7 223.1,55.2 223.6,58.8 224.1,56.9 224.6,55.7 225.1,55.3 225.6,58.2 226.1,57.9 226.6,54.9 227.1,55.6 227.6,56.4 228.1,53.7 228.6,54.2 229.1,56.1 229.6,53.9 230.1,54.0 230.6,52.9 231.1,53.4 231.6,54.9 232.1,53.2 232.6,52.6 233.1,53.2 233.6,55.6 234.1,53.9 234.6,53.0 235.1,53.7 235.6,53.9 236.1,53.5 236.6,51.4 237.1,53.6 237.6,53.0 238.1,54.0 238.6,51.6 239.1,54.1 239.6,52.4 240.1,51.1 240.6,54.3 241.1,52.3 241.6,53.2 242.1,52.6 242.6,53.8 243.1,53.8 243.6,53.8 244.1,53.3 244.6,50.8 245.1,50.7 245.6,52.7 246.1,51.4 246.6,52.9 246.7,52.6 247.2,92.0 247.7,121.8 248.2,142.7 248.7,158.1 249.2,169.7 249.7,178.7 250.2,185.2 250.7,187.1 251.2,190.8 251.7,195.5 252.2,196.7 252.7,197.4 253.2,195.8 253.7,198.1 254.2,200.1 254.7,199.9 255.2,203.1 255.7,201.4 256.2,202.0 256.7,200.8 257.2,201.1 257.7,201.6 258.2,201.8 258.7,202.4 259.2,203.2 259.7,203.1 260.2,204.0 260.7,201.6 261.2,203.3 261.7,203.4 262.2,204.9 262.7,203.0 263.2,203.6 263.7,202.4 264.2,203.8 264.7,203.8 265.2,202.7 265.7,202.9 266.2,203.4 266.7,204.0 267.2,202.2 267.7,204.4 268.2,203.1 268.7,205.5 269.2,205.0 269.7,203.0 270.2,202.8 270.7,206.1 271.2,204.1 271.7,204.1 272.2,203.0 272.7,203.3 273.2,204.3 273.7,204.1 274.2,202.6 274.7,204.8 275.2,203.8 275.7,202.5 276.2,204.6 276.7,203.3 277.2,204.3 277.7,176.2 278.2,155.7 278.7,136.3 279.2,124.5 279.7,111.2 280.2,103.9 280.7,93.7 281.2,90.3 281.7,86.2 282.2,81.9 282.7,79.3 283.2,74.2 283.7,74.7 284.2,72.8 284.7,68.2 285.2,67.3 285.7,66.4 286.2,65.9 286.7,65.3 287.2,61.7 287.7,64.3 288.2,62.8 288.7,61.5 289.2,63.1 289.7,61.3 290.2,62.5 290.7,61.5 291.2,60.2 291.7,61.5 292.2,60.8 292.7,59.2 293.2,57.8 293.7,58.7 294.2,59.7 294.7,58.6 295.2,60.6 295.7,58.8 296.2,58.6 296.7,58.6 297.2,57.1 297.7,57.8 298.2,57.1 298.7,55.2 299.2,55.7 299.7,58.2 300.2,56.9 300.7,57.1 301.2,55.6 301.7,56.5 302.2,57.8 302.7,57.0 303.2,56.3 303.7,58.4 304.2,56.7 304.7,56.3 305.2,57.8 305.7,54.7 306.2,57.1 306.7,55.3 307.2,55.6 307.7,55.7 308.2,56.5 308.7,56.4 309.2,56.6 309.7,56.5 310.2,57.7 310.7,58.0 311.2,56.9 311.7,56.9 312.2,55.7 312.7,54.9 313.2,56.7 313.7,56.1 314.2,56.9" stroke="#b345c4"/>
<path d="M6.5,41.5 7.0,44.2 7.5,41.8 8.0,42.6 8.5,43.2 9.0,41.7 9.5,42.2 10.0,41.4 10.5,41.7 11.0,41.4 11.5,42.6 12.0,42.7 12.5,42.4 13.0,43.3 13.5,43.4 14.0,42.5 14.5,42.4 15.0,42.4 15.5,42.3 16.0,43.3 16.5,42.7 17.0,42.3 17.5,42.4 18.0,42.9 18.5,42.3 19.0,42.7 19.5,42.5 20.0,43.3 20.5,43.2 21.0,41.6 21.5,42.4 22.0,42.9 22.5,42.2 23.0,43.0 23.5,42.7 24.0,42.8 24.5,42.4 25.0,42.7 25.5,42.8 26.0,41.6 26.5,41.9 27.0,41.9 27.5,43.5 28.0,42.7 28.5,42.7 29.0,42.6 29.5,42.1 30.0,42.0 30.5,43.0 31.0,42.2 31.5,43.4 32.0,42.6 32.5,42.5 33.0,42.3 33.5,42.4 34.0,42.5 34.5,43.4 35.0,43.8 35.5,41.7 36.0,42.6 36.5,42.9 37.0,41.9 37.5,42.0 38.0,42.2 38.5,41.0 39.0,42.8 39.5,42.4 40.0,42.4 40.5,42.5 41.0,42.6 41.5,43.8 42.0,42.5 42.5,42.9 43.0,42.1 43.5,42.6 44.0,42.2 44.3,42.3 44.8,41.3 45.3,41.0 45.8,41.5 46.3,41.6 46.8,41.3 47.3,40.6 47.8,41.2 48.3,39.4 48.8,41.5 49.3,40.9 49.8,41.1 50.3,41.6 50.8,40.6 51.3,41.4 51.8,40.6 52.3,41.2 52.8,40.6 53.3,41.0 53.8,41.7 54.3,40.5 54.8,40.5 55.3,40.6 55.8,41.0 56.3,42.5 56.8,40.5 57.3,39.6 57.8,40.4 58.3,39.9 58.8,40.5 59.3,40.8 59.8,40.3 60.3,40.4 60.8,39.7 61.3,40.9 61.8,40.4 62.3,41.5 62.8,41.5 63.3,40.3 63.8,40.6 64.3,40.9 64.8,41.3 65.3,39.8 65.8,40.8 66.3,41.9 66.8,40.8 67.3,41.0 67.8,40.8 68.3,40.1 68.8,41.4 69.3,41.0 69.8,40.9 70.3,41.3 70.8,41.3 71.3,39.7 71.8,41.1 72.3,40.5 72.8,40.9 73.3,40.4 73.5,40.3 74.0,41.6 74.5,41.3 75.0,41.3 75.5,41.4 76.0,41.8 76.5,41.8 77.0,40.5 77.5,41.5 78.0,42.0 78.5,42.7 79.0,43.2 79.5,41.9 80.0,43.7 80.5,42.6 81.0,42.9 81.5,42.4 82.0,42.4 82.5,43.7 83.0,42.7 83.5,42.9 84.0,43.7 84.5,44.0 85.0,42.1 85.5,43.0 86.0,43.1 86.5,44.2 87.0,44.7 87.5,43.2 88.0,43.5 88.5,43.8 89.0,44.0 89.5,43.1 90.0,43.9 90.5,42.9 91.0,41.8 91.5,42.6 92.0,43.5 92.5,43.9 93.0,42.1 93.5,42.4 94.0,43.5 94.5,41.5 95.0,43.8 95.5,44.1 96.0,41.7 96.5,44.0 97.0,43.4 97.5,44.4 98.0,43.7 98.5,43.4 99.0,43.7 99.5,44.2 100.0,43.7 100.5,43.6 101.0,42.7 101.5,43.9 102.0,43.6 102.5,44.7 103.0,43.6 103.5,43.6 104.0,43.3 104.5,44.1 105.0,43.5 105.5,43.2 106.0,44.6 106.5,44.7 107.0,43.4 107.5,43.1 108.0,44.4 108.5,43.2 109.0,45.4 109.5,43.6 110.0,44.3 110.5,42.9 111.0,43.7 111.5,44.3 112.0,44.0 112.5,43.4 112.6,45.2 113.1,53.4 113.6,57.6 114.1,60.3 114.6,62.5 115.1,65.0 115.6,65.1 116.1,66.7 116.6,67.3 117.1,69.6 117.6,69.7 118.1,71.2 118.6,71.8 119.1,71.9 119.6,73.4 120.1,74.3 120.6,73.6 121.1,75.4 121.6,77.7 122.1,75.9 122.6,76.9 123.1,76.2 123.6,77.8 124.1,77.5 124.6,78.8 125.1,78.6 125.6,78.3 126.1,80.0 126.6,79.5 127.1,79.3 127.6,80.2 128.1,79.9 128.6,80.9 129.1,80.9 129.6,80.9 130.1,81.7 130.6,80.7 131.1,82.3 131.6,80.6 132.1,83.0 132.6,82.2 133.1,82.1 133.6,82.0 134.1,82.9 134.6,82.5 135.1,82.6 135.6,83.5 136.1,82.7 136.6,82.9 137.1,83.4 137.6,83.8 138.1,83.2 138.6,83.4 139.1,83.4 139.6,83.9 140.1,84.4 140.6,83.0 141.0,83.5 141.5,73.2 142.0,68.1 142.5,65.6 143.0,62.8 143.5,61.7 144.0,61.3 144.5,59.1 145.0,58.8 145.5,58.4 146.0,58.2 146.5,57.9 147.0,57.0 147.5,58.0 148.0,56.1 148.5,56.1 149.0,56.5 149.5,56.0 150.0,55.3 150.5,55.3 151.0,55.3 151.5,54.6 152.0,54.7 152.5,53.6 153.0,54.0 153.5,52.8 154.0,53.1 154.5,52.8 155.0,54.1 155.5,53.0 156.0,53.3 156.5,52.5 157.0,52.8 157.5,52.6 158.0,52.2 158.5,53.2 159.0,51.6 159.5,52.9 160.0,54.0 160.5,51.9 161.0,52.3 161.5,51.3 162.0,52.2 162.5,51.1 163.0,52.5 163.5,51.8 164.0,50.9 164.5,51.2 165.0,51.0 165.5,51.7 166.0,52.4 166.5,51.6 167.0,51.1 167.5,51.3 168.0,51.9 168.5,50.3 169.0,52.1 169.5,52.0 170.0,50.2 170.5,52.4 171.0,50.7 171.5,51.5 172.0,52.4 172.5,50.6 173.0,50.5 173.5,50.9 174.0,50.9 174.5,51.5 175.0,51.3 175.5,51.3 176.0,51.3 176.5,51.4 177.0,51.0 177.5,51.7 178.0,51.5 178.5,50.9 179.0,52.7 179.5,50.8 180.0,52.0 180.2,51.1 180.7,87.6 181.2,107.9 181.7,120.0 182.2,127.5 182.7,130.8 183.2,136.3 183.7,137.1 184.2,138.2 184.7,139.3 185.2,142.8 185.7,143.5 186.2,143.4 186.7,144.7 187.2,145.8 187.7,145.7 188.2,145.9 188.7,146.7 189.2,147.7 189.7,147.6 190.2,147.2 190.7,148.7 191.2,147.5 191.7,148.4 192.2,149.8 192.7,149.4 193.2,149.6 193.7,149.7 194.2,150.4 194.7,149.9 195.2,148.9 195.7,150.3 196.2,148.4 196.7,149.1 197.2,151.4 197.7,151.1 198.2,150.3 198.7,150.6 199.2,150.7 199.7,151.3 200.2,150.3 200.7,150.3 201.2,150.4 201.7,150.9 202.2,151.0 202.7,150.7 203.2,151.4 203.7,150.3 204.2,150.9 204.7,150.5 205.2,150.4 205.7,151.7 206.2,150.8 206.7,150.4 207.2,151.0 207.7,150.4 208.2,151.4 208.6,151.6 209.1,133.9 209.6,118.6 210.1,108.1 210.6,100.6 211.1,92.4 211.6,87.8 212.1,83.6 212.6,78.3 213.1,77.0 213.6,74.5 214.1,72.7 214.6,71.6 215.1,69.6 215.6,68.3 216.1,67.7 216.6,66.3 217.1,66.2 217.6,64.1 218.1,65.9 218.6,64.0 219.1,64.3 219.6,63.8 220.1,63.3 220.6,63.0 221.1,62.7 221.6,61.4 222.1,61.8 222.6,62.7 223.1,61.1 223.6,60.9 224.1,62.6 224.6,61.9 225.1,62.0 225.6,60.8 226.1,60.9 226.6,61.0 227.1,60.8 227.6,60.3 228.1,59.3 228.6,59.6 229.1,59.0 229.6,60.8 230.1,59.5 230.6,59.6 231.1,59.8 231.6,59.5 232.1,59.7 232.6,59.0 233.1,58.3 233.6,60.3 234.1,58.7 234.6,58.8 235.1,58.5 235.6,58.6 236.1,58.9 236.6,59.3 237.1,58.2 237.6,58.9 238.1,58.3 238.6,59.4 239.1,57.9 239.6,58.7 240.1,59.0 240.6,57.7 241.1,58.6 241.6,58.5 242.1,57.9 242.6,58.3 243.1,59.0 243.6,58.5 244.1,58.1 244.6,58.2 245.1,58.6 245.6,59.0 246.1,58.7 246.6,58.7 246.7,59.2 247.2,95.9 247.7,123.4 248.2,142.5 248.7,158.4 249.2,166.6 249.7,175.2 250.2,180.9 250.7,183.5 251.2,186.7 251.7,189.0 252.2,191.2 252.7,190.9 253.2,192.9 253.7,193.8 254.2,194.0 254.7,194.4 255.2,195.3 255.7,195.0 256.2,195.0 256.7,195.0 257.2,195.7 257.7,195.2 258.2,195.8 258.7,195.6 259.2,196.2 259.7,195.1 260.2,195.7 260.7,195.9 261.2,195.9 261.7,196.4 262.2,196.0 262.7,196.3 263.2,196.9 263.7,196.3 264.2,195.1 264.7,194.9 265.2,196.2 265.7,195.6 266.2,196.0 266.7,195.7 267.2,196.6 267.7,196.5 268.2,195.1 268.7,196.0 269.2,195.6 269.7,195.0 270.2,196.2 270.7,195.7 271.2,196.1 271.7,197.3 272.2,196.6 272.7,196.5 273.2,195.6 273.7,195.1 274.2,196.6 274.7,195.6 275.2,195.8 275.7,195.6 276.2,195.9 276.7,197.2 277.2,195.6 277.7,172.8 278.2,154.4 278.7,139.2 279.2,125.8 279.7,115.1 280.2,107.4 280.7,100.6 281.2,94.5 281.7,89.6 282.2,85.6 282.7,82.6 283.2,80.0 283.7,76.8 284.2,75.5 284.7,74.4 285.2,72.7 285.7,70.7 286.2,70.3 286.7,69.6 287.2,69.3 287.7,67.2 288.2,68.0 288.7,66.7 289.2,66.7 289.7,66.5 290.2,65.2 290.7,64.9 291.2,65.0 291.7,65.2 292.2,64.2 292.7,63.4 293.2,63.7 293.7,64.1 294.2,64.4 294.7,63.2 295.2,63.1 295.7,63.1 296.2,63.0 296.7,62.3 297.2,62.5 297.7,62.8 298.2,62.6 298.7,62.5 299.2,61.7 299.7,61.9 300.2,61.7 300.7,62.7 301.2,62.9 301.7,62.1 302.2,62.8 302.7,61.6 303.2,61.6 303.7,60.9 304.2,61.8 304.7,61.3 305.2,61.6 305.7,61.8 306.2,61.3 306.7,60.7 307.2,61.3 307.7,61.3 308.2,61.3 308.7,61.6 309.2,61.1 309.7,61.0 310.2,62.2 310.7,61.8 311.2,61.1 311.7,60.5 312.2,60.8 312.7,61.3 313.2,61.5 313.7,62.4 314.2,60.8" stroke="#3a8d45"/>
</g>
<line x1="315.6" y1="59.8" x2="315.6" y2="185" stroke="#111" stroke-width="1.8"/>
<rect x="6.4" y="75.1" width="94.5" height="65.3" fill="#fff" stroke="#222" stroke-width="1.3"/>
<g stroke-width="1.6">
<line x1="10" x2="37.8" y1="81.8" y2="81.8" stroke="#111" stroke-width="2"/>
<line x1="10" x2="37.8" y1="94.4" y2="94.4" stroke="#e2231f"/>
<line x1="10" x2="37.8" y1="106.9" y2="106.9" stroke="#3b4cc0"/>
<line x1="10" x2="37.8" y1="119.4" y2="119.4" stroke="#b345c4"/>
<line x1="10" x2="37.8" y1="131.9" y2="131.9" stroke="#3a8d45"/>
</g>
<path d="M6,230.9 H44.9 V234.4 H73.4 V230.9 H112.1 V228.5 H141.5 V230.9 H179.8 V225.3 H208.3 V230.9 H246.9 V219 H275.6 V230.9 H314.4" fill="none" stroke="#111" stroke-width="1.8"/>
<line x1="245.8" x2="314.4" y1="236.2" y2="236.2" stroke="#111" stroke-width="1.8"/>

<rect x="403.3" y="37.1" width="116" height="74.9" fill="#fff" stroke="#c6c6c6" stroke-width="1.6"/>
<g stroke-width="2.1">
<line x1="403.7" x2="427.8" y1="56.1" y2="56.1" stroke="#5a5a5a" stroke-width="2.5"/>
<line x1="403.7" x2="427.8" y1="68.4" y2="68.4" stroke="#e3221c"/>
<line x1="403.7" x2="427.8" y1="80.6" y2="80.6" stroke="#2b3aa8"/>
<line x1="403.7" x2="427.8" y1="93" y2="93" stroke="#7cc143"/>
<line x1="403.7" x2="427.8" y1="105.5" y2="105.5" stroke="#dc1a80"/>
</g>
<g fill="none">
<path d="M495.5,212.5 496.4,212.4 497.3,212.3 498.2,212.2 499.1,212.1 500.0,212.0 500.9,211.9 501.8,211.8 502.7,211.7 503.6,211.6 504.5,211.5 505.4,211.4 506.3,211.2 507.2,211.1 508.1,210.9 509.0,210.8 509.9,210.6 510.8,210.5 511.7,210.3 512.7,210.1 513.6,209.9 514.5,209.7 515.4,209.5 516.3,209.3 517.2,209.1 518.1,208.8 519.0,208.6 519.9,208.3 520.8,208.1 521.7,207.8 522.6,207.5 523.5,207.2 524.4,206.9 525.3,206.6 526.2,206.2 527.1,205.9 528.0,205.5 528.9,205.1 529.8,204.7 530.7,204.3 531.6,203.8 532.5,203.4 533.4,202.9 534.3,202.4 535.2,201.9 536.1,201.4 537.0,200.8 537.9,200.2 538.8,199.6 539.7,199.0 540.6,198.4 541.5,197.7 542.4,197.0 543.3,196.3 544.2,195.6 545.1,194.8 546.0,194.0 546.9,193.1 547.8,192.3 548.7,191.4 549.6,190.5 550.5,189.5 551.4,188.6 552.3,187.5 553.2,186.5 554.1,185.4 555.0,184.3 555.9,183.2 556.8,182.0 557.7,180.8 558.6,179.5 559.5,178.3 560.4,176.9 561.3,175.6 562.2,174.2 563.1,172.8 564.0,171.4 564.9,169.9 565.8,168.4 566.7,166.8 567.7,165.3 568.6,163.7 569.5,162.0 570.4,160.4 571.3,158.7 572.2,157.0 573.1,155.2 574.0,153.5 574.9,151.7 575.8,149.9 576.7,148.0 577.6,146.2 578.5,144.3 579.4,142.4 580.3,140.5 581.2,138.6 582.1,136.7 583.0,134.8 583.9,132.9 584.8,131.0 585.7,129.0 586.6,127.1 587.5,125.2 588.4,123.3 589.3,121.4 590.2,119.5 591.1,117.6 592.0,115.7 592.9,113.8 593.8,112.0 594.7,110.2 595.6,108.4 596.5,106.6 597.4,104.8 598.3,103.1 599.2,101.3 600.1,99.7 601.0,98.0 601.9,96.4 602.8,94.8 603.7,93.2 604.6,91.6 605.5,90.1 606.4,88.7 607.3,87.2 608.2,85.8 609.1,84.4 610.0,83.1 610.9,81.8 611.8,80.5 612.7,79.2 613.6,78.0 614.5,76.9 615.4,75.7 616.3,74.6 617.2,73.5 618.1,72.5 619.0,71.5 619.9,70.5 620.8,69.5 621.7,68.6 622.7,67.7 623.6,66.9 624.5,66.1 625.4,65.3 626.3,64.5 627.2,63.7 628.1,63.0 629.0,62.3 629.9,61.6 630.8,61.0 631.7,60.4 632.6,59.8 633.5,59.2 634.4,58.7 635.3,58.1 636.2,57.6 637.1,57.1 638.0,56.6 638.9,56.2" stroke="#c4c4c4" stroke-width="6" filter="url(#gb)"/>
<path d="M413.6,213.9 415.0,213.9 416.5,213.9 417.9,213.9 419.3,213.9 420.7,213.9 422.1,213.9 423.5,213.9 424.9,213.9 426.3,213.9 427.7,213.9 429.2,213.9 430.6,213.9 432.0,213.9 433.4,213.9 434.8,213.9 436.2,213.9 437.6,213.9 439.0,213.8 440.5,213.8 441.9,213.8 443.3,213.8 444.7,213.8 446.1,213.8 447.5,213.8 448.9,213.8 450.3,213.8 451.7,213.8 453.2,213.7 454.6,213.7 456.0,213.7 457.4,213.7 458.8,213.7 460.2,213.6 461.6,213.6 463.0,213.6 464.5,213.6 465.9,213.5 467.3,213.5 468.7,213.5 470.1,213.4 471.5,213.4 472.9,213.4 474.3,213.3 475.7,213.3 477.2,213.2 478.6,213.2 480.0,213.1 481.4,213.1 482.8,213.0 484.2,212.9 485.6,212.8 487.0,212.8 488.4,212.7 489.9,212.6 491.3,212.5 492.7,212.4 494.1,212.2 495.5,212.1 496.9,212.0 498.3,211.8 499.7,211.7 501.2,211.5 502.6,211.3 504.0,211.2 505.4,210.9 506.8,210.7 508.2,210.5 509.6,210.2 511.0,210.0 512.4,209.7 513.9,209.4 515.3,209.1 516.7,208.7 518.1,208.3 519.5,207.9 520.9,207.5 522.3,207.0 523.7,206.5 525.2,206.0 526.6,205.5 528.0,204.9 529.4,204.2 530.8,203.5 532.2,202.8 533.6,202.1 535.0,201.2 536.4,200.4 537.9,199.4 539.3,198.5 540.7,197.4 542.1,196.3 543.5,195.2 544.9,193.9 546.3,192.6 547.7,191.3 549.1,189.8 550.6,188.3 552.0,186.7 553.4,185.1 554.8,183.3 556.2,181.5 557.6,179.5 559.0,177.5 560.4,175.5 561.9,173.3 563.3,171.0 564.7,168.7 566.1,166.3 567.5,163.8 568.9,161.3 570.3,158.6 571.7,155.9 573.1,153.2 574.6,150.4 576.0,147.5 577.4,144.6 578.8,141.7 580.2,138.7 581.6,135.7 583.0,132.7 584.4,129.7 585.8,126.7 587.3,123.7 588.7,120.7 590.1,117.7 591.5,114.8 592.9,111.9 594.3,109.0 595.7,106.2 597.1,103.5 598.6,100.8 600.0,98.1 601.4,95.6 602.8,93.1 604.2,90.7 605.6,88.4 607.0,86.1 608.4,84.0 609.8,81.9 611.3,79.9 612.7,78.0 614.1,76.1 615.5,74.4 616.9,72.7 618.3,71.1 619.7,69.6 621.1,68.1 622.6,66.8 624.0,65.5 625.4,64.2 626.8,63.1 628.2,62.0 629.6,61.0 631.0,60.0 632.4,59.1 633.8,58.2 635.3,57.4 636.7,56.6 638.1,55.9" stroke="#484848" stroke-width="1.9"/>
<path d="M413.6,215.3 415.0,215.3 416.5,215.3 417.9,215.3 419.3,215.3 420.7,215.3 422.1,215.3 423.5,215.3 424.9,215.3 426.3,215.3 427.7,215.3 429.2,215.3 430.6,215.3 432.0,215.3 433.4,215.3 434.8,215.3 436.2,215.2 437.6,215.2 439.0,215.2 440.5,215.2 441.9,215.2 443.3,215.2 444.7,215.2 446.1,215.2 447.5,215.1 448.9,215.1 450.3,215.1 451.7,215.1 453.2,215.1 454.6,215.0 456.0,215.0 457.4,215.0 458.8,214.9 460.2,214.9 461.6,214.8 463.0,214.8 464.5,214.7 465.9,214.7 467.3,214.6 468.7,214.5 470.1,214.4 471.5,214.3 472.9,214.2 474.3,214.1 475.7,214.0 477.2,213.8 478.6,213.7 480.0,213.5 481.4,213.3 482.8,213.1 484.2,212.9 485.6,212.6 487.0,212.4 488.4,212.1 489.9,211.7 491.3,211.4 492.7,211.0 494.1,210.5 495.5,210.0 496.9,209.5 498.3,208.9 499.7,208.2 501.2,207.5 502.6,206.8 504.0,205.9 505.4,205.0 506.8,204.0 508.2,202.9 509.6,201.7 511.0,200.4 512.4,199.0 513.9,197.5 515.3,195.8 516.7,194.0 518.1,192.1 519.5,190.1 520.9,187.9 522.3,185.5 523.7,183.0 525.2,180.3 526.6,177.5 528.0,174.5 529.4,171.4 530.8,168.1 532.2,164.7 533.6,161.2 535.0,157.5 536.4,153.7 537.9,149.8 539.3,145.9 540.7,141.9 542.1,137.8 543.5,133.7 544.9,129.7 546.3,125.6 547.7,121.6 549.1,117.6 550.6,113.7 552.0,109.9 553.4,106.3 554.8,102.7 556.2,99.3 557.6,96.0 559.0,92.8 560.4,89.8 561.9,87.0 563.3,84.3 564.7,81.8 566.1,79.4 567.5,77.2 568.9,75.1 570.3,73.1 571.7,71.3 573.1,69.7 574.6,68.1 576.0,66.7 577.4,65.4 578.8,64.2 580.2,63.1 581.6,62.1 583.0,61.1 584.4,60.3 585.8,59.5 587.3,58.8 588.7,58.1 590.1,57.5 591.5,57.0 592.9,56.5 594.3,56.0 595.7,55.6 597.1,55.2 598.6,54.9 600.0,54.6 601.4,54.3 602.8,54.1 604.2,53.8 605.6,53.6 607.0,53.4 608.4,53.2 609.8,53.1 611.3,52.9 612.7,52.8 614.1,52.7 615.5,52.6 616.9,52.5 618.3,52.4 619.7,52.3 621.1,52.3 622.6,52.2 624.0,52.1 625.4,52.1 626.8,52.0 628.2,52.0 629.6,52.0 631.0,51.9 632.4,51.9 633.8,51.9 635.3,51.8 636.7,51.8 638.1,51.8" stroke="#e3221c" stroke-width="2.1"/>
<path d="M413.6,216.1 415.0,216.1 416.5,216.0 417.9,216.0 419.3,216.0 420.7,216.0 422.1,216.0 423.5,216.0 424.9,216.0 426.3,216.0 427.7,216.0 429.2,215.9 430.6,215.9 432.0,215.9 433.4,215.9 434.8,215.9 436.2,215.8 437.6,215.8 439.0,215.8 440.5,215.7 441.9,215.7 443.3,215.7 444.7,215.6 446.1,215.6 447.5,215.5 448.9,215.5 450.3,215.4 451.7,215.3 453.2,215.2 454.6,215.1 456.0,215.0 457.4,214.9 458.8,214.8 460.2,214.7 461.6,214.5 463.0,214.4 464.5,214.2 465.9,214.0 467.3,213.8 468.7,213.5 470.1,213.2 471.5,213.0 472.9,212.6 474.3,212.3 475.7,211.9 477.2,211.5 478.6,211.0 480.0,210.5 481.4,209.9 482.8,209.3 484.2,208.6 485.6,207.9 487.0,207.1 488.4,206.2 489.9,205.2 491.3,204.2 492.7,203.0 494.1,201.8 495.5,200.4 496.9,198.9 498.3,197.4 499.7,195.6 501.2,193.8 502.6,191.8 504.0,189.7 505.4,187.4 506.8,185.0 508.2,182.4 509.6,179.6 511.0,176.7 512.4,173.6 513.9,170.4 515.3,167.1 516.7,163.5 518.1,159.9 519.5,156.1 520.9,152.2 522.3,148.3 523.7,144.2 525.2,140.1 526.6,135.9 528.0,131.8 529.4,127.6 530.8,123.4 532.2,119.3 533.6,115.3 535.0,111.3 536.4,107.4 537.9,103.6 539.3,100.0 540.7,96.4 542.1,93.0 543.5,89.8 544.9,86.7 546.3,83.8 547.7,81.0 549.1,78.4 550.6,76.0 552.0,73.7 553.4,71.5 554.8,69.5 556.2,67.7 557.6,66.0 559.0,64.4 560.4,62.9 561.9,61.5 563.3,60.3 564.7,59.1 566.1,58.1 567.5,57.1 568.9,56.2 570.3,55.4 571.7,54.6 573.1,53.9 574.6,53.3 576.0,52.8 577.4,52.2 578.8,51.8 580.2,51.3 581.6,50.9 583.0,50.6 584.4,50.3 585.8,50.0 587.3,49.7 588.7,49.4 590.1,49.2 591.5,49.0 592.9,48.8 594.3,48.7 595.7,48.5 597.1,48.4 598.6,48.3 600.0,48.2 601.4,48.1 602.8,48.0 604.2,47.9 605.6,47.8 607.0,47.7 608.4,47.7 609.8,47.6 611.3,47.6 612.7,47.5 614.1,47.5 615.5,47.4 616.9,47.4 618.3,47.4 619.7,47.3 621.1,47.3 622.6,47.3 624.0,47.3 625.4,47.3 626.8,47.2 628.2,47.2 629.6,47.2 631.0,47.2 632.4,47.2 633.8,47.2 635.3,47.2 636.7,47.1 638.1,47.1" stroke="#dc1a80" stroke-width="2.1"/>
<path d="M413.6,214.1 415.0,214.1 416.5,214.1 417.9,214.1 419.3,214.1 420.7,214.1 422.1,214.0 423.5,214.0 424.9,214.0 426.3,214.0 427.7,213.9 429.2,213.9 430.6,213.9 432.0,213.8 433.4,213.8 434.8,213.7 436.2,213.7 437.6,213.6 439.0,213.6 440.5,213.5 441.9,213.5 443.3,213.4 444.7,213.3 446.1,213.2 447.5,213.1 448.9,213.0 450.3,212.9 451.7,212.8 453.2,212.6 454.6,212.5 456.0,212.3 457.4,212.2 458.8,212.0 460.2,211.8 461.6,211.6 463.0,211.3 464.5,211.1 465.9,210.8 467.3,210.5 468.7,210.2 470.1,209.8 471.5,209.4 472.9,209.0 474.3,208.6 475.7,208.1 477.2,207.5 478.6,207.0 480.0,206.4 481.4,205.7 482.8,205.0 484.2,204.2 485.6,203.4 487.0,202.5 488.4,201.5 489.9,200.5 491.3,199.4 492.7,198.2 494.1,197.0 495.5,195.6 496.9,194.2 498.3,192.6 499.7,191.0 501.2,189.3 502.6,187.4 504.0,185.5 505.4,183.4 506.8,181.2 508.2,178.9 509.6,176.5 511.0,174.0 512.4,171.4 513.9,168.7 515.3,165.8 516.7,162.9 518.1,159.9 519.5,156.7 520.9,153.5 522.3,150.2 523.7,146.9 525.2,143.5 526.6,140.1 528.0,136.6 529.4,133.1 530.8,129.6 532.2,126.2 533.6,122.7 535.0,119.3 536.4,115.9 537.9,112.6 539.3,109.3 540.7,106.1 542.1,103.0 543.5,99.9 544.9,97.0 546.3,94.2 547.7,91.5 549.1,88.8 550.6,86.3 552.0,83.9 553.4,81.7 554.8,79.5 556.2,77.5 557.6,75.5 559.0,73.7 560.4,71.9 561.9,70.3 563.3,68.8 564.7,67.3 566.1,66.0 567.5,64.7 568.9,63.6 570.3,62.5 571.7,61.4 573.1,60.5 574.6,59.6 576.0,58.8 577.4,58.0 578.8,57.3 580.2,56.7 581.6,56.1 583.0,55.5 584.4,55.0 585.8,54.5 587.3,54.0 588.7,53.6 590.1,53.2 591.5,52.9 592.9,52.6 594.3,52.3 595.7,52.0 597.1,51.7 598.6,51.5 600.0,51.3 601.4,51.1 602.8,50.9 604.2,50.7 605.6,50.6 607.0,50.4 608.4,50.3 609.8,50.2 611.3,50.1 612.7,50.0 614.1,49.9 615.5,49.8 616.9,49.7 618.3,49.6 619.7,49.6 621.1,49.5 622.6,49.4 624.0,49.4 625.4,49.3 626.8,49.3 628.2,49.2 629.6,49.2 631.0,49.2 632.4,49.1 633.8,49.1 635.3,49.1 636.7,49.1 638.1,49.0" stroke="#7cc143" stroke-width="2.1"/>
<path d="M413.6,215.7 415.0,215.7 416.5,215.7 417.9,215.7 419.3,215.7 420.7,215.7 422.1,215.7 423.5,215.7 424.9,215.7 426.3,215.7 427.7,215.7 429.2,215.7 430.6,215.7 432.0,215.7 433.4,215.7 434.8,215.6 436.2,215.6 437.6,215.6 439.0,215.6 440.5,215.6 441.9,215.6 443.3,215.6 444.7,215.6 446.1,215.6 447.5,215.6 448.9,215.6 450.3,215.6 451.7,215.6 453.2,215.6 454.6,215.6 456.0,215.5 457.4,215.5 458.8,215.5 460.2,215.5 461.6,215.5 463.0,215.5 464.5,215.4 465.9,215.4 467.3,215.4 468.7,215.3 470.1,215.3 471.5,215.3 472.9,215.2 474.3,215.2 475.7,215.1 477.2,215.1 478.6,215.0 480.0,214.9 481.4,214.8 482.8,214.7 484.2,214.6 485.6,214.5 487.0,214.4 488.4,214.3 489.9,214.1 491.3,214.0 492.7,213.8 494.1,213.6 495.5,213.3 496.9,213.1 498.3,212.8 499.7,212.5 501.2,212.2 502.6,211.8 504.0,211.4 505.4,211.0 506.8,210.5 508.2,210.0 509.6,209.4 511.0,208.7 512.4,208.0 513.9,207.2 515.3,206.3 516.7,205.4 518.1,204.4 519.5,203.2 520.9,202.0 522.3,200.7 523.7,199.2 525.2,197.7 526.6,195.9 528.0,194.1 529.4,192.1 530.8,190.0 532.2,187.7 533.6,185.2 535.0,182.6 536.4,179.8 537.9,176.9 539.3,173.8 540.7,170.5 542.1,167.1 543.5,163.6 544.9,159.9 546.3,156.1 547.7,152.1 549.1,148.1 550.6,144.1 552.0,139.9 553.4,135.8 554.8,131.6 556.2,127.5 557.6,123.4 559.0,119.3 560.4,115.4 561.9,111.5 563.3,107.7 564.7,104.1 566.1,100.5 567.5,97.2 568.9,94.0 570.3,90.9 571.7,88.0 573.1,85.3 574.6,82.7 576.0,80.3 577.4,78.1 578.8,76.0 580.2,74.1 581.6,72.3 583.0,70.6 584.4,69.1 585.8,67.7 587.3,66.4 588.7,65.2 590.1,64.1 591.5,63.1 592.9,62.2 594.3,61.3 595.7,60.6 597.1,59.9 598.6,59.2 600.0,58.7 601.4,58.1 602.8,57.7 604.2,57.2 605.6,56.8 607.0,56.5 608.4,56.2 609.8,55.9 611.3,55.6 612.7,55.4 614.1,55.2 615.5,55.0 616.9,54.8 618.3,54.6 619.7,54.5 621.1,54.3 622.6,54.2 624.0,54.1 625.4,54.0 626.8,53.9 628.2,53.9 629.6,53.8 631.0,53.7 632.4,53.7 633.8,53.6 635.3,53.6 636.7,53.5 638.1,53.5" stroke="#2b3aa8" stroke-width="2.1"/>
</g>
<rect x="412.0" y="207.7" width="4.6" height="4.6" fill="#dc1a80"/>
<rect x="412.0" y="208.9" width="4.6" height="4.6" fill="#7cc143"/>
<rect x="412.0" y="212.3" width="4.6" height="4.6" fill="#2b3aa8"/>
<rect x="456.9" y="214.7" width="3.4" height="3.4" fill="#dc1a80"/>
<rect x="456.8" y="213.4" width="3.6" height="3.6" fill="#2b3aa8"/>
<path d="M503.4,147.5 V165.8 M501.4,147.5 H505.4 M501.4,165.8 H505.4" stroke="#dc1a80" stroke-width="1" fill="none"/>
<rect x="501.1" y="156.2" width="4.6" height="4.6" fill="#dc1a80"/>
<rect x="501.1" y="166.4" width="4.6" height="4.6" fill="#7cc143"/>
<rect x="501.5" y="212.0" width="4.6" height="4.6" fill="#484848"/>
<path d="M503.8,199.0 V206.0 M501.8,199.0 H505.8 M501.8,206.0 H505.8" stroke="#e3221c" stroke-width="1" fill="none"/>
<rect x="501.5" y="200.1" width="4.6" height="4.6" fill="#e3221c"/>
<rect x="501.5" y="207.3" width="4.6" height="4.6" fill="#2b3aa8"/>
<path d="M547.8,80.3 V100.0 M545.8,80.3 H549.8 M545.8,100.0 H549.8" stroke="#dc1a80" stroke-width="1" fill="none"/>
<rect x="546.5" y="86.7" width="2.6" height="2.6" fill="#dc1a80"/>
<rect x="545.5" y="93.0" width="4.6" height="4.6" fill="#7cc143"/>
<path d="M548.5,117.4 V136.6 M546.5,117.4 H550.5 M546.5,136.6 H550.5" stroke="#e3221c" stroke-width="1" fill="none"/>
<rect x="546.2" y="125.0" width="4.6" height="4.6" fill="#e3221c"/>
<path d="M548.5,145.8 V165.4 M546.5,145.8 H550.5 M546.5,165.4 H550.5" stroke="#2b3aa8" stroke-width="1" fill="none"/>
<rect x="546.2" y="152.7" width="4.6" height="4.6" fill="#2b3aa8"/>
<path d="M548.3,183.6 V194.4 M546.3,183.6 H550.3 M546.3,194.4 H550.3" stroke="#707070" stroke-width="1" fill="none"/>
<rect x="546.6" y="187.3" width="3.4" height="3.4" fill="#707070"/>
<rect x="635.5" y="55.9" width="4.6" height="4.6" fill="#484848"/>
<rect x="635.5" y="52.7" width="4.6" height="4.6" fill="#2b3aa8"/>
<rect x="635.5" y="50.0" width="4.6" height="4.6" fill="#e3221c"/>
<rect x="635.5" y="47.1" width="4.6" height="4.6" fill="#7cc143"/>
<rect x="635.5" y="43.7" width="4.6" height="4.6" fill="#dc1a80"/>
<g stroke="#6a6a6a" stroke-width="1.4" fill="none">
<path d="M397,36.3 V227.7 H656"/>
<path d="M393,53.1 H397 M393,133.4 H397 M393,213.75 H397 M395,93.3 H397 M395,173.6 H397"/>
<path d="M432,227.7 V231 M521.6,227.7 V231 M611.2,227.7 V231 M476.8,227.7 V229.5 M566.4,227.7 V229.5 M656,227.7 V229.5"/>
</g>
</svg>

<div class="t" style="left:40.3px;top:77.2px;font-size:10px;color:#111;transform:scaleX(0.86);line-height:12.25px;-webkit-text-stroke:0.2px #111">CC1(WT)<br>Y172A-D204A<br>Y172S-D204A<br>Y172A-D204K<br>Y172S-D204K</div>
<div class="t" style="left:290.5px;top:168.5px;width:21px;font-size:9.5px;font-weight:bold;color:#222;line-height:10.5px;text-align:center">&Delta;F/F<br>15%</div>

<div class="t" style="left:9px;top:224px;font-size:6.5px;color:#111;-webkit-text-stroke:0.35px #111">-70 mV</div>
<div class="t" style="left:46px;top:237px;font-size:6.5px;color:#111;-webkit-text-stroke:0.35px #111">-120 mV</div>
<div class="t" style="left:115px;top:220.8px;font-size:6.5px;color:#111;-webkit-text-stroke:0.35px #111">-20 mV</div>
<div class="t" style="left:183.8px;top:217.6px;font-size:6.5px;color:#111;-webkit-text-stroke:0.35px #111">30 mV</div>
<div class="t" style="left:249px;top:211.8px;font-size:6.5px;color:#111;-webkit-text-stroke:0.35px #111">130 mV</div>
<div class="t" style="left:267.3px;top:238.7px;font-size:6.5px;color:#111;-webkit-text-stroke:0.35px #111">600 ms</div>

<div class="t" style="left:430.2px;top:51px;font-size:10px;color:#5a5a5a;line-height:12.2px;-webkit-text-stroke:0.2px #666">CC1<br>CC1-D204A-Y172A<br>CC1-D204A-Y172S<br>CC1-D204K-Y172S<br>CC1-D204K-Y172A</div>

<div class="t tl" style="left:379.1px;top:48.2px;">1.0</div>
<div class="t tl" style="left:378.5px;top:128.7px;">0.5</div>
<div class="t tl" style="left:378.6px;top:209.3px;">0.0</div>
<div class="t tl" style="left:424.2px;top:234.2px;">-100</div>
<div class="t tl" style="left:519.6px;top:234.2px;">0</div>
<div class="t tl" style="left:605px;top:234.2px;">100</div>
<div class="t" style="left:498px;top:247.4px;font-size:10px;color:#5a5a5a;-webkit-text-stroke:0.2px #666">voltage (mV)</div>
<div class="t" style="left:364.8px;top:168.3px;font-size:10px;color:#5e5e5e;transform:rotate(-90deg);-webkit-text-stroke:0.2px #666">Normalized &Delta;F/F</div>
</div></body></html>
